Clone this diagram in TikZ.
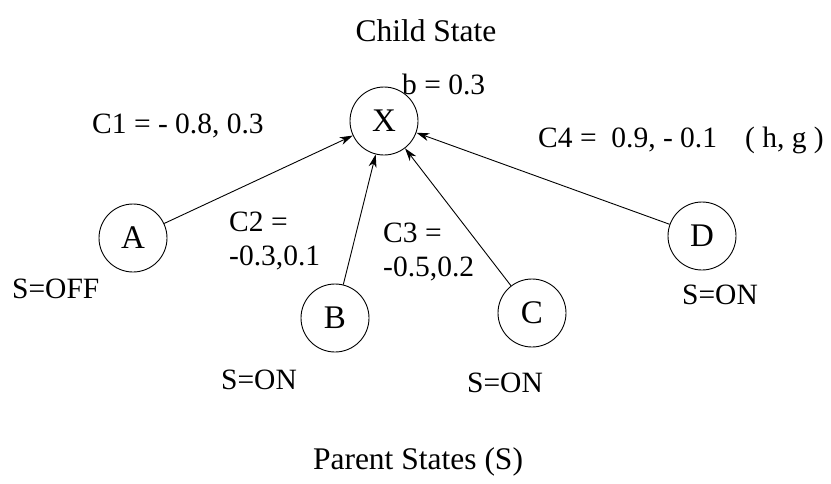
\documentclass[tikz,border=0pt]{standalone}
\usepackage{fontspec}
\setmainfont{Liberation Serif}
\usetikzlibrary{arrows.meta}
\begin{document}
\begin{tikzpicture}[x=1pt,y=-1pt,
  state/.style={draw,circle,minimum size=68pt,inner sep=0pt,line width=0.9pt,font=\fontsize{33}{36}\selectfont},
  lbl/.style={inner sep=0pt,font=\fontsize{29.5}{34}\selectfont,anchor=base west},
  title/.style={inner sep=0pt,font=\fontsize{31.5}{36}\selectfont,anchor=base},
  edge/.style={line width=0.9pt,-{Stealth[length=13pt,width=8pt,inset=4pt]}}]
\useasboundingbox (0,0) rectangle (831,483);
% parent and child nodes
\node[state] (X) at (384,121) {X};
\node[state] (A) at (133,238) {A};
\node[state] (B) at (335,318) {B};
\node[state] (C) at (532,313) {C};
\node[state] (D) at (702,236) {D};
% influences from the parents to the child
\draw[edge] (A) -- (X);
\draw[edge] (B) -- (X);
\draw[edge] (C) -- (X);
\draw[edge] (D) -- (X);
% titles
\node[title] (top) at (426,41) {Child State};
\node[title] (bottom) at (418,469) {Parent States (S)};
% weights
\node[lbl] (b) at (402,94) {b = 0.3};
\node[lbl] (c1) at (92,133) {C1 = - 0.8, 0.3};
\node[lbl] (c4) at (538,147) {C4 = \ 0.9, - 0.1\hspace{28pt}( h, g )};
\node[lbl] (c2a) at (229,231) {C2 =};
\node[lbl] (c2b) at (229,265) {-0.3,0.1};
\node[lbl] (c3a) at (383,242) {C3 =};
\node[lbl] (c3b) at (383,276) {-0.5,0.2};
% parent states
\node[lbl] (sa) at (12,298) {S=OFF};
\node[lbl] (sb) at (221,389) {S=ON};
\node[lbl] (sc) at (467,392) {S=ON};
\node[lbl] (sd) at (682,304) {S=ON};
\end{tikzpicture}
\end{document}
